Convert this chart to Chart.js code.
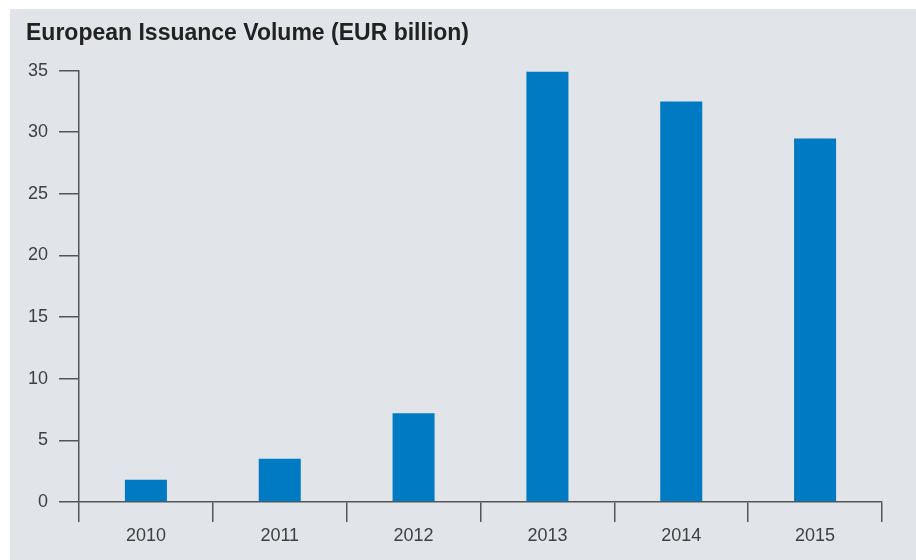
<!DOCTYPE html>
<html>
<head>
<meta charset="utf-8">
<script src="https://cdn.jsdelivr.net/npm/chart.js@4/dist/chart.umd.min.js"></script>
<style>
  html, body { margin: 0; padding: 0; background: #ffffff; }
  #wrap { width: 916px; height: 560px; }
</style>
</head>
<body>
<div id="wrap"><canvas id="chart" width="916" height="560"></canvas></div>
<script>
const years = ["2010", "2011", "2012", "2013", "2014", "2015"]
const issuance = [1.8, 3.5, 7.2, 34.9, 32.5, 29.5]
const yTicks = [0, 5, 10, 15, 20, 25, 30, 35]

const FONT = "'Liberation Sans', Arial, Helvetica, sans-serif"
const AXIS = '#555555'

// grey panel behind the chart, white strip top/left
const panelPlugin = {
  id: 'panelPlugin',
  beforeDraw: (chart) => {
    const { ctx, width, height } = chart
    ctx.save()
    ctx.fillStyle = '#ffffff'
    ctx.fillRect(0, 0, width, height)
    ctx.fillStyle = '#e1e4e9'
    ctx.fillRect(10, 9, width - 10, height - 9)
    ctx.restore()
  }
}

new Chart(document.getElementById('chart').getContext('2d'), {
  type: 'bar',
  data: {
    labels: years,
    datasets: [{
      data: issuance,
      backgroundColor: '#007bc3',
      borderWidth: 0,
      categoryPercentage: 1,
      barPercentage: 0.314
    }]
  },
  options: {
    responsive: false,
    animation: false,
    layout: { padding: { left: 26, right: 34, top: 0, bottom: 0 } },
    plugins: {
      legend: { display: false },
      tooltip: { enabled: false },
      title: {
        display: true,
        text: 'European Issuance Volume (EUR billion)',
        align: 'start',
        color: '#222222',
        font: { family: FONT, size: 23, weight: 'bold' },
        padding: { top: 20, bottom: 23 }
      }
    },
    scales: {
      x: {
        grid: {
          offset: true,
          drawOnChartArea: false,
          tickLength: 20,
          color: AXIS,
          lineWidth: 1.5
        },
        border: { color: AXIS, width: 1.5 },
        ticks: {
          color: '#404040',
          font: { family: FONT, size: 18 },
          padding: 3
        },
        afterFit: (scale) => { scale.height = 58 }
      },
      y: {
        min: 0,
        max: 35,
        afterBuildTicks: (scale) => { scale.ticks = yTicks.map(v => ({ value: v })) },
        grid: {
          drawOnChartArea: false,
          tickLength: 20,
          color: AXIS,
          lineWidth: 1.5
        },
        border: { color: AXIS, width: 1.5 },
        ticks: {
          color: '#404040',
          font: { family: FONT, size: 18 },
          padding: 11
        },
        afterFit: (scale) => { scale.width = 53 }
      }
    }
  },
  plugins: [panelPlugin]
})
</script>
</body>
</html>
